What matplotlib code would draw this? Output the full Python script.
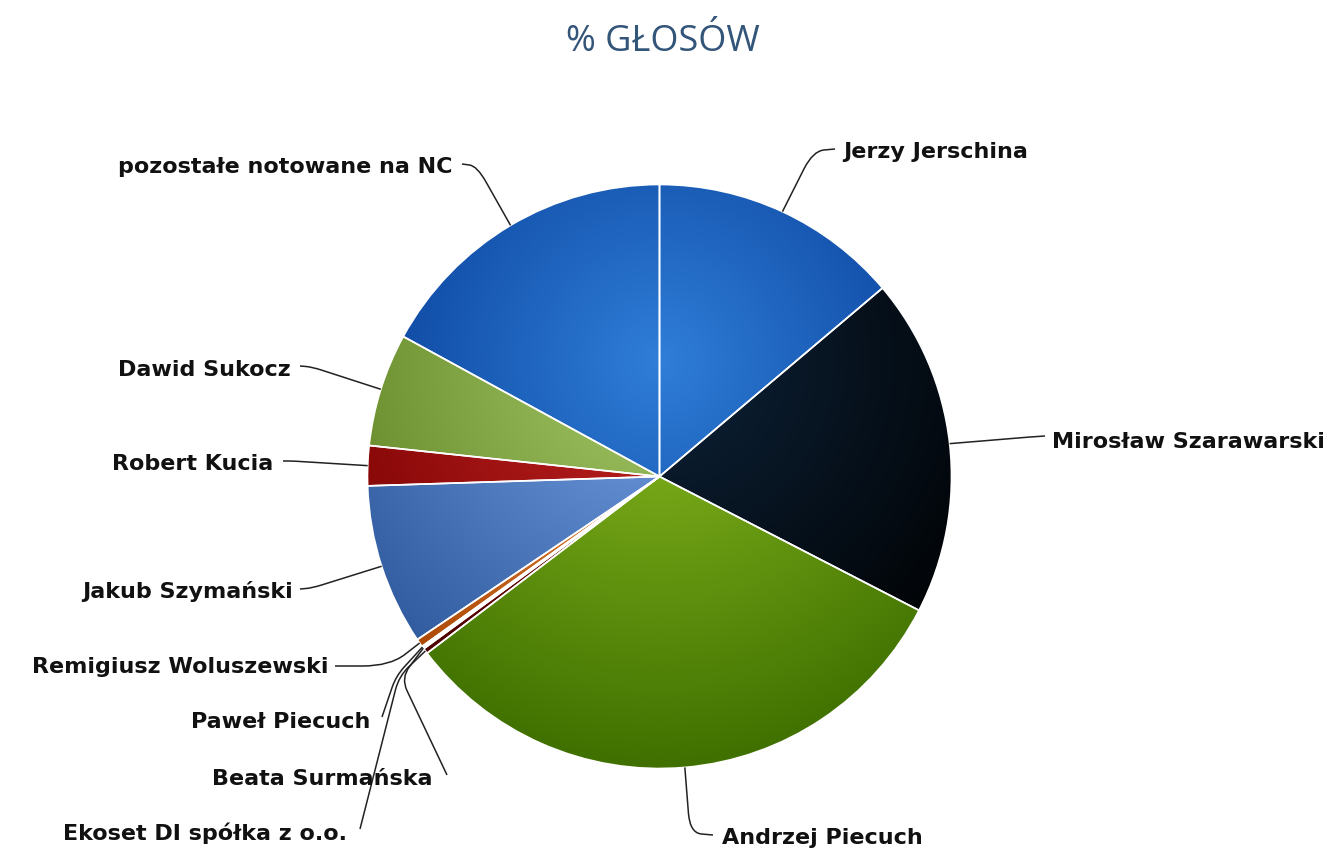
import numpy as np
import matplotlib
matplotlib.use("Agg")
import matplotlib.pyplot as plt
from matplotlib.path import Path
from matplotlib.patches import PathPatch
from matplotlib.colors import to_rgb

# data: share of votes (%), clockwise from 12 o'clock
names = ["Jerzy Jerschina", "Mirosław Szarawarski", "Andrzej Piecuch",
         "Ekoset DI spółka z o.o.", "Beata Surmańska", "Paweł Piecuch",
         "Remigiusz Woluszewski", "Jakub Szymański", "Robert Kucia",
         "Dawid Sukocz", "pozostałe notowane na NC"]
shares = [13.8, 18.7, 32.0, 0.3, 0.08, 0.08, 0.45, 8.9, 2.2, 6.25, 17.0]
colors = ['#2f7ed8', '#0d233a', '#8bbc21', '#910000', '#1aadce', '#492970',
          '#f28f43', '#77a1e5', '#c42525', '#a6c96a', '#2f7ed8']

# layout (pixel coords, y measured from the top)
W, H = 1327, 853
CX, CY, R = 659.5, 477.5, 292

# label text position, alignment, connector end, bend point and corner radius
label_pos = [(843, 152), (1052, 442), (722, 838), (347, 833), (433, 779),
             (370, 722), (328, 667), (293, 591), (273, 464), (291, 370), (452, 167)]
label_ha = ['left', 'left', 'left', 'right', 'right', 'right', 'right',
            'right', 'right', 'right', 'right']
conn_end = [(835, 150), (1045, 437), (713, 836), (360, 830), (447, 776),
            (382, 718), (335, 667), (300, 590), (283, 462), (300, 367), (462, 165)]
conn_bend = [(813, 152), (1030, 438), (690, 834), (399, 677), (401, 679),
             (396, 677), (390, 667), (312, 589), (292, 462), (312, 368), (477, 167)]
corner = [20, 8, 20, 14, 14, 12, 30, 10, 5, 10, 18]


def P(x, y):
    return np.array([x, H - y], dtype=float)


fig = plt.figure(figsize=(W / 100, H / 100), dpi=100)
ax = fig.add_axes([0, 0, 1, 1])

wedges, _ = ax.pie(shares, colors=colors, startangle=90, counterclock=False,
                   center=P(CX, CY), radius=R,
                   wedgeprops=dict(edgecolor='white', linewidth=1.2))

# radial gradient like the original (centre at 0.5/0.3 of the pie box, r = 0.7 D)
n = 700
xs = np.linspace(CX - R, CX + R, n)
ys = np.linspace(H - CY - R, H - CY + R, n)
XX, YY = np.meshgrid(xs, ys)
gx, gy = CX, H - (CY - R + 0.3 * 2 * R)
t = np.clip(np.hypot(XX - gx, YY - gy) / (0.7 * 2 * R), 0, 1)[..., None]

for w, c in zip(wedges, colors):
    base = np.array(to_rgb(c))
    dark = np.clip(base - 76 / 255, 0, 1)
    img = base + t * (dark - base)
    im = ax.imshow(img, extent=(CX - R, CX + R, H - CY - R, H - CY + R),
                   origin='lower', zorder=1, interpolation='bilinear')
    im.set_clip_path(w)
    w.set_facecolor('none')
    w.set_zorder(2)


def toward(a, b, d):
    v = b - a
    L = np.hypot(*v)
    return a + v * min(d / L, 0.5) if L > 0 else a


# labels with soft connectors (straight line, rounded corner, short tail)
for w, name, pos, ha, end, bend, rad in zip(wedges, names, label_pos, label_ha,
                                            conn_end, conn_bend, corner):
    ang = np.deg2rad((w.theta1 + w.theta2) / 2)
    p0 = np.array([CX + R * np.cos(ang), (H - CY) + R * np.sin(ang)])
    pb, pe = P(*bend), P(*end)
    a = toward(pb, p0, rad)
    b = toward(pb, pe, rad)
    path = Path([p0, a, pb, b, pe],
                [Path.MOVETO, Path.LINETO, Path.CURVE3, Path.CURVE3, Path.LINETO])
    ax.add_patch(PathPatch(path, facecolor='none', edgecolor='#222222',
                           lw=1.1, zorder=3))
    ax.text(*P(*pos), name, ha=ha, va='center', fontsize=16,
            fontweight='bold', family='DejaVu Sans', color='#111111', zorder=4)

ax.text(*P(663, 42), '% GŁOSÓW', ha='center', va='center', fontsize=26,
        family='Open Sans', color='#33557a')

ax.set_xlim(0, W)
ax.set_ylim(0, H)
ax.set_aspect('equal')
ax.axis('off')

plt.savefig('out.png', dpi=100)
